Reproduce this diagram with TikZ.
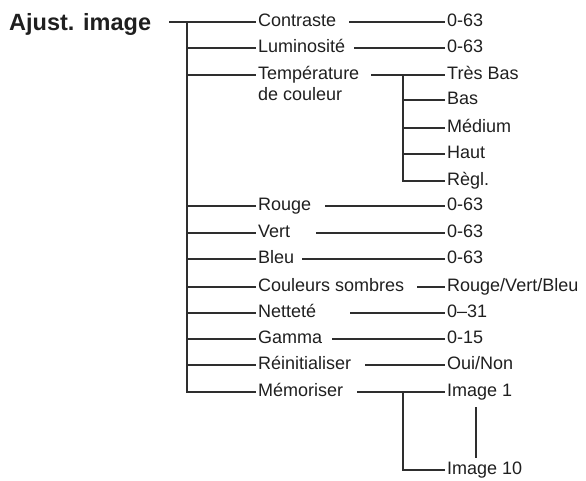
\documentclass[tikz,border=0pt]{standalone}
\usepackage{fontspec}
\setmainfont{Liberation Sans}
\begin{document}
\fontsize{18}{21}\selectfont
\begin{tikzpicture}[x=1pt,y=-1pt,
  item/.style={anchor=mid west, inner xsep=2pt, inner ysep=2pt, font=\fontsize{18}{21}\selectfont, text=black!88},
  conn/.style={draw=black!82, line width=1.1pt}]
\useasboundingbox (0,0) rectangle (586,481);
\node[anchor=base west, inner sep=0pt, font=\fontsize{23.5}{28}\selectfont\bfseries, text=black!88] (title) at (9,31) {Ajust. image};
% first level
\node[item] (c1) at (256,22) {Contraste};
\node[item] (c2) at (256,48) {Luminosité};
\node[item] (c3) at (256,75) {Température};
\node[item] (c3b) at (256,96) {de couleur};
\node[item] (c4) at (256,206) {Rouge};
\node[item] (c5) at (256,233) {Vert};
\node[item] (c6) at (256,259) {Bleu};
\node[item] (c7) at (256,287) {Couleurs sombres};
\node[item] (c8) at (256,313) {Netteté};
\node[item] (c9) at (256,339) {Gamma};
\node[item] (c10) at (256,365) {Réinitialiser};
\node[item] (c11) at (256,392) {Mémoriser};
% values
\node[item] (v1) at (445,22) {0-63};
\node[item] (v2) at (445,48) {0-63};
\node[item] (s1) at (445,75) {Très Bas};
\node[item] (s2) at (445,100) {Bas};
\node[item] (s3) at (445,128) {Médium};
\node[item] (s4) at (445,154) {Haut};
\node[item] (s5) at (445,181) {Règl.};
\node[item] (v4) at (445,206) {0-63};
\node[item] (v5) at (445,233) {0-63};
\node[item] (v6) at (445,259) {0-63};
\node[item] (v7) at (445,287) {Rouge/Vert/Bleu};
\node[item] (v8) at (445,313) {0–31};
\node[item] (v9) at (445,339) {0-15};
\node[item] (v10) at (445,365) {Oui/Non};
\node[item] (v11) at (445,392) {Image 1};
\node[item] (v12) at (445,470) {Image 10};
% title connector and trunk
\draw[conn] (169,0 |- c1.mid west) -- (c1.mid west);
\draw[conn] (187,0 |- c1.mid west) -- (187,0 |- c11.mid west) -- (c11.mid west);
\foreach \n in {c2,c3,c4,c5,c6,c7,c8,c9,c10}
  \draw[conn] (187,0 |- \n.mid west) -- (\n.mid west);
% value connectors
\foreach \n/\v/\x in {c1/v1/349,c2/v2/354,c3/s1/371,c4/v4/325,c5/v5/316,c6/v6/302,c7/v7/417,c8/v8/350,c9/v9/332,c10/v10/365,c11/v11/357}
  \draw[conn] (\x,0 |- \n.mid west) -- (\v.mid west);
% temperature sub-branches
\draw[conn] (403,0 |- s1.mid west) -- (403,0 |- s5.mid west) -- (s5.mid west);
\foreach \s in {s2,s3,s4}
  \draw[conn] (403,0 |- \s.mid west) -- (\s.mid west);
% memoriser sub-branches
\draw[conn] (403,0 |- v11.mid west) -- (403,0 |- v12.mid west) -- (v12.mid west);
\coordinate (i1b) at ([yshift=-4.5pt]v11.south);
\coordinate (i10t) at ([yshift=1.5pt]v12.north);
\draw[conn] (i1b -| 476,0) -- (i10t -| 476,0);
\end{tikzpicture}
\end{document}
